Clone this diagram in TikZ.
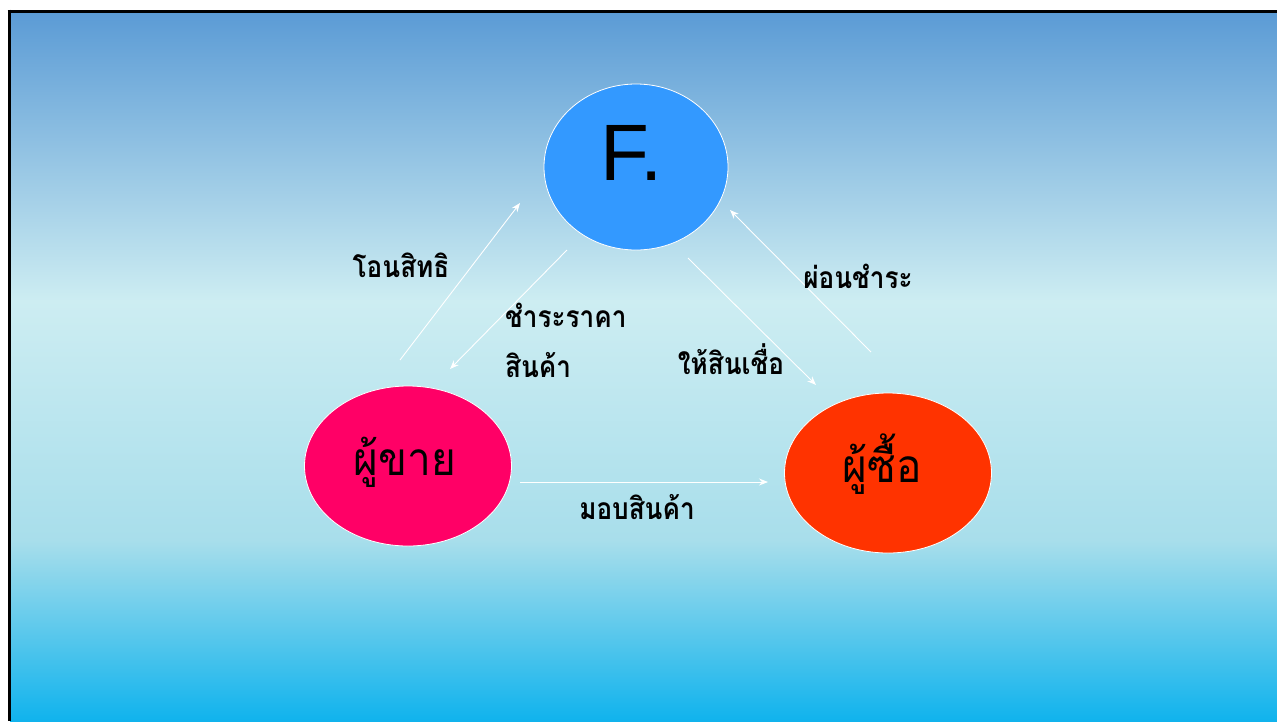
\documentclass[tikz,border=0pt]{standalone}
\usepackage{fontspec}
\setmainfont{Liberation Sans}
\newfontfamily\thaifont[Script=Thai]{Loma}
\usetikzlibrary{arrows.meta,shapes.geometric}
\definecolor{bgA}{RGB}{91,155,213}
\definecolor{bgB}{RGB}{205,237,242}
\definecolor{bgC}{RGB}{168,222,235}
\definecolor{bgD}{RGB}{16,179,237}
\definecolor{fblue}{RGB}{51,153,255}
\definecolor{seller}{RGB}{255,0,102}
\definecolor{buyer}{RGB}{255,51,0}
\newcommand{\narrowtxt}[1]{\scalebox{0.87}[1]{#1}}
\tikzset{
  bubble/.style={ellipse, draw=white, line width=0.8pt, inner sep=0pt},
  flow/.style={draw=white, line width=0.9pt, -{Stealth[length=9pt,width=7pt]}},
  lbl/.style={font=\thaifont\bfseries\fontsize{30}{34}\selectfont, text=black, inner sep=0pt},
  big/.style={font=\thaifont\fontsize{46}{52}\selectfont, text=black}
}
\begin{document}
\begin{tikzpicture}[x=1pt,y=-1pt]
\useasboundingbox (0,0) rectangle (1277,721);
\fill[white] (0,0) rectangle (1277,721);
% background gradient
\shade[top color=bgA, bottom color=bgB] (10,12) rectangle (1277,301);
\shade[top color=bgB, bottom color=bgC] (10,300) rectangle (1277,541);
\shade[top color=bgC, bottom color=bgD] (10,540) rectangle (1277,721);
\draw[black, line width=3pt] (7.5,11) -- (1277,11);
\draw[black, line width=3pt] (9,9.5) -- (9,721);
% nodes
\node[bubble, fill=fblue, minimum width=184pt, minimum height=166pt] (f) at (636,167) {};
\node[font=\fontsize{80}{90}\selectfont] (ft) at (632,153) {F.};
\node[bubble, fill=seller, minimum width=207pt, minimum height=160pt] (s) at (408,466) {};
\node[big] (st) at (405,462) {\scalebox{0.92}[1]{ผู้ขาย}};
\node[bubble, fill=buyer, minimum width=207pt, minimum height=160pt] (b) at (888,473) {};
\node[big] (bt) at (882,464) {\scalebox{0.92}[1]{ผู้ซื้อ}};
% connector end points
\coordinate (a1) at (400,360); \coordinate (a2) at (520,203);
\coordinate (b1) at (567,250); \coordinate (b2) at (450,369);
\coordinate (c1) at (688,258); \coordinate (c2) at (816,385);
\coordinate (d1) at (871,352); \coordinate (d2) at (730,210);
\coordinate (e1) at (520,482); \coordinate (e2) at (768,482);
\draw[flow] (a1) -- (a2);
\draw[flow] (b1) -- (b2);
\draw[flow] (c1) -- (c2);
\draw[flow] (d1) -- (d2);
\draw[flow] (e1) -- (e2);
% labels
\node[lbl] (l1) at (401,265) {\narrowtxt{โอนสิทธิ}};
\node[lbl, anchor=west] (l2) at (505,315) {\narrowtxt{ชำระราคา}};
\node[lbl, anchor=west] (l3) at (505,365) {\narrowtxt{สินค้า}};
\node[lbl] (l4) at (731,359) {\narrowtxt{ให้สินเชื่อ}};
\node[lbl] (l5) at (858,276) {\narrowtxt{ผ่อนชำระ}};
\node[lbl] (l6) at (637,507) {\narrowtxt{มอบสินค้า}};
\end{tikzpicture}
\end{document}
